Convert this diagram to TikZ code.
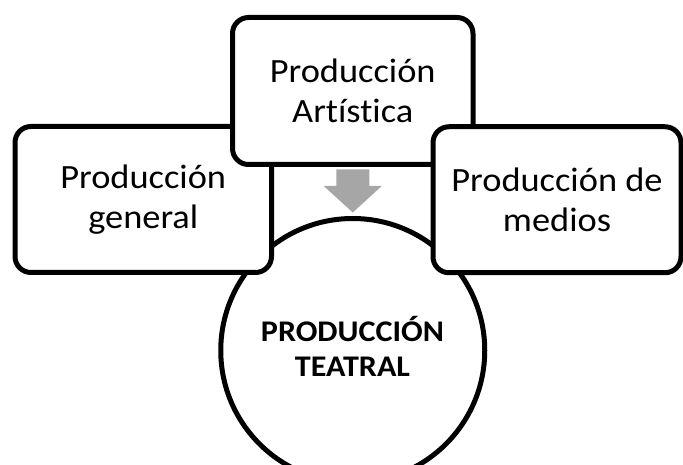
\documentclass[tikz,border=0pt]{standalone}
\usepackage{fontspec}
\setmainfont{Carlito}[FakeStretch=1.07,Ligatures=NoCommon]
\begin{document}
\begin{tikzpicture}[x=1pt,y=-1pt,
  box/.style={draw=black,line width=5pt,fill=white,rounded corners=16pt,
    rectangle,align=center,inner sep=0pt,
    font=\fontsize{34}{40}\selectfont},
  core/.style={draw=black,line width=5pt,fill=white,circle,inner sep=0pt,
    minimum size=264pt},
  flow/.style={fill=black!35,draw=none}]
\useasboundingbox (0,0) rectangle (683,465);
\node[core] (c) at (352.75,350.5) {};
\node[align=center,font=\fontsize{30}{35}\selectfont\bfseries] (ct) at (352.5,346) {PRODUCCIÓN\\TEATRAL};
\node[box,minimum width=256.5pt,minimum height=146pt] (l) at (143.25,199.5) {Producción\\general};
\node[box,minimum width=240.5pt,minimum height=147pt] (t) at (352.75,91) {Producción\\Artística};
\node[box,minimum width=248pt,minimum height=146pt] (r) at (557,199.75) {Producción de\\medios};
\coordinate (at) at ([yshift=-2.5pt]t.south);
\fill[flow] ([xshift=-16.5pt]at) -- ([xshift=16.5pt]at) -- ([xshift=16.5pt,yshift=-16.5pt]at)
  -- ([xshift=29pt,yshift=-16.5pt]at) -- ([yshift=-43pt]at) -- ([xshift=-29pt,yshift=-16.5pt]at)
  -- ([xshift=-16.5pt,yshift=-16.5pt]at) -- cycle;
\end{tikzpicture}
\end{document}
